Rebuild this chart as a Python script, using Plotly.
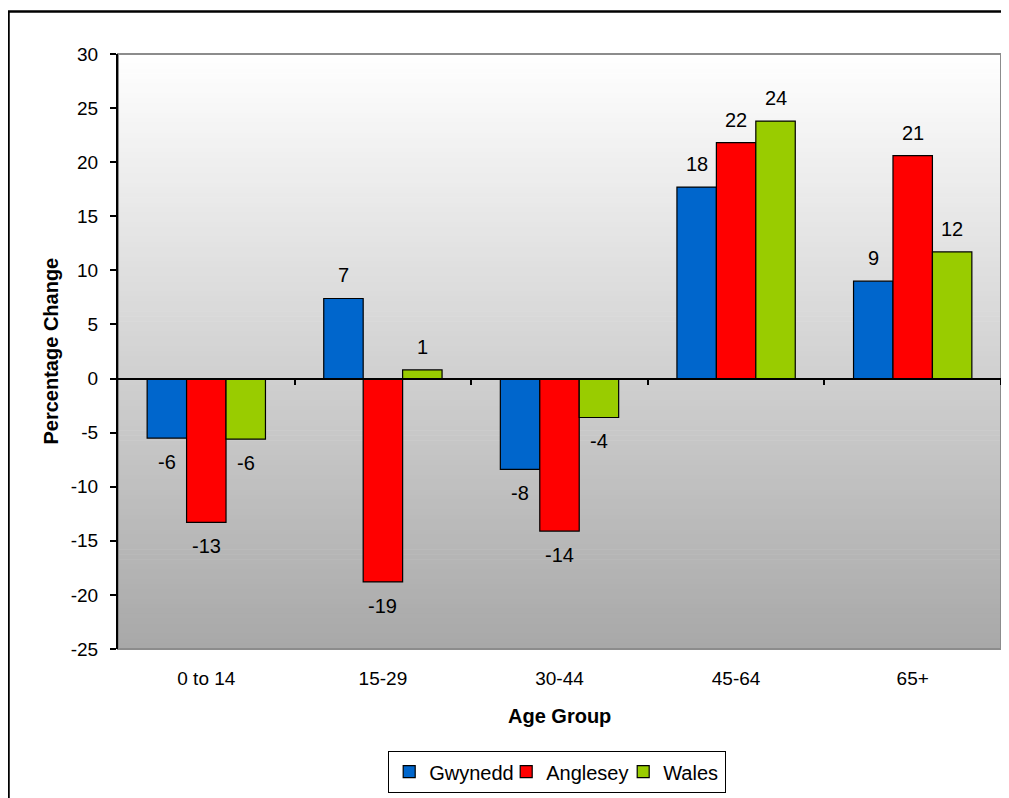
import plotly.graph_objects as go

categories = ["0 to 14", "15-29", "30-44", "45-64", "65+"]
gwynedd = [-5.5, 7.4, -8.4, 17.7, 9.0]
anglesey = [-13.3, -18.8, -14.1, 21.8, 20.6]
wales = [-5.6, 0.8, -3.6, 23.8, 11.7]
series_names = ["Gwynedd", "Anglesey", "Wales"]
series_colors = ["#0066CC", "#FF0000", "#99CC00"]
y_ticks = list(range(-25, 31, 5))
y_ticktext = [str(v) for v in y_ticks]

# the page body adds an 8px offset, so figure coords = screen coords - 8
OFF = 8
W, H = 1009 - OFF, 798 - OFF
ML, MT = 118 - OFF, 54 - OFF
PW, PH = 883, 595
MR = W - ML - PW
MB = H - MT - PH
BARGAP = 0.33
FONT = "Arial, Liberation Sans, sans-serif"


def px_y(screen_y):
    """paper y for a screen y position"""
    return ((MT + PH) - (screen_y - OFF)) / PH


def px_x(screen_x):
    return ((screen_x - OFF) - ML) / PW


fig = go.Figure()
series = [gwynedd, anglesey, wales]
legend_widths = [72, 72, 56]
for name, vals, col, lw in zip(series_names, series, series_colors, legend_widths):
    fig.add_trace(go.Bar(
        name=name, x=categories, y=vals, legendwidth=lw,
        marker=dict(color=col, line=dict(color="black", width=1.2)),
    ))

# data labels
bar_px = PW / len(categories) * (1 - BARGAP) / len(series)
annotations = []
for i, vals in enumerate(series):
    for c, v in zip(categories, vals):
        annotations.append(dict(
            x=c, y=v, xref="x", yref="y", text=f"{v:.0f}" if abs(v) >= 0.5 else "0",
            showarrow=False, xshift=(i - 1) * bar_px,
            yanchor="bottom" if v >= 0 else "top",
            yshift=10 if v >= 0 else -11,
            font=dict(family=FONT, size=20, color="black"),
        ))

# axis titles
annotations.append(dict(text="<b>Percentage Change</b>", xref="paper", yref="paper",
                        x=px_x(50), y=0.5, xanchor="center", yanchor="middle",
                        textangle=-90, showarrow=False,
                        font=dict(family=FONT, size=20, color="black")))
annotations.append(dict(text="<b>Age Group</b>", xref="paper", yref="paper",
                        x=px_x(559), y=px_y(716), xanchor="center",
                        yanchor="middle", showarrow=False,
                        font=dict(family=FONT, size=20, color="black")))

# gradient background
shapes = []
N = 120
for k in range(N):
    f = (k + 0.5) / N
    g = int(round(255 - f * (255 - 168)))
    shapes.append(dict(
        type="rect", xref="paper", yref="paper", x0=0, x1=1,
        y0=1 - (k + 1) / N, y1=1 - k / N + 0.001,
        fillcolor=f"rgb({g},{g},{g})", line=dict(width=0), layer="below",
    ))
# plot area border
shapes.append(dict(type="rect", xref="paper", yref="paper", x0=0, x1=1, y0=0, y1=1,
                   line=dict(color="#8c8c8c", width=2), layer="below"))
# outer chart border
shapes.append(dict(type="rect", xref="paper", yref="paper",
                   x0=px_x(8.5), x1=1.2, y0=-0.6, y1=px_y(11.5),
                   line=dict(color="black", width=2.5), layer="above"))

fig.update_layout(
    width=W, height=H,
    margin=dict(l=ML, r=MR, t=MT, b=MB, autoexpand=False),
    paper_bgcolor="white", plot_bgcolor="white",
    barmode="group", bargap=BARGAP, bargroupgap=0,
    font=dict(family=FONT, size=20, color="black"),
    showlegend=True,
    legend=dict(orientation="h", x=px_x(557), xanchor="center",
                y=px_y(751), yanchor="top",
                bordercolor="black", borderwidth=1.2, bgcolor="white",
                font=dict(size=20), itemwidth=30, tracegroupgap=0,
                entrywidthmode="pixels"),
    xaxis=dict(type="category", range=[-0.5, 4.5], showline=False, ticks="",
               showgrid=False, zeroline=False, ticklabelstandoff=16,
               tickfont=dict(size=19), automargin=False),
    xaxis2=dict(overlaying="x", anchor="free", position=25 / 55, range=[-0.5, 4.5],
                showline=True, linecolor="black", linewidth=1.5, ticks="outside",
                ticklen=6, tickwidth=1.5, tickcolor="black",
                tickvals=[0.5, 1.5, 2.5, 3.5, 4.5], showticklabels=False,
                showgrid=False, zeroline=False, automargin=False),
    yaxis=dict(range=[-25, 30], tickvals=y_ticks, ticktext=y_ticktext,
               showgrid=False, zeroline=False,
               showline=True, linecolor="black", linewidth=2, ticks="outside",
               ticklen=6, tickwidth=1.5, tickcolor="black", ticklabelstandoff=8,
               tickfont=dict(size=19), automargin=False),
    shapes=shapes,
    annotations=annotations,
)
# invisible helper trace so the zero-line category axis renders
fig.add_trace(go.Scatter(x=[0], y=[0], xaxis="x2", mode="markers",
                         marker=dict(opacity=0), showlegend=False, hoverinfo="skip"))

fig.write_html("out.html")
